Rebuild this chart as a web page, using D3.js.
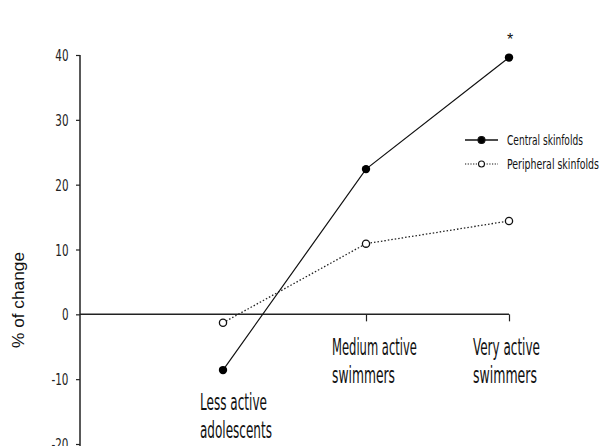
<!DOCTYPE html>
<html>
<head>
<meta charset="utf-8">
<script src="https://cdn.jsdelivr.net/npm/d3@7"></script>
<style>
  body { margin: 0; background: #fff; }
  svg { display: block; }
  .narrow { font-family: "DejaVu Sans Condensed", "DejaVu Sans", sans-serif; }
</style>
</head>
<body>
<div id="chart"></div>
<script>
// data
var categories = [["Less active", "adolescents"], ["Medium active", "swimmers"], ["Very active", "swimmers"]];
var central = [-8.6, 22.4, 39.6];
var peripheral = [-1.3, 10.9, 14.4];
var yTicks = [-20, -10, 0, 10, 20, 30, 40];
var seriesNames = ["Central skinfolds", "Peripheral skinfolds"];

var width = 601, height = 446;
var svg = d3.select("#chart").append("svg")
    .attr("width", width)
    .attr("height", height);

// slot 0 is the empty space left of the first category
var x = d3.scaleLinear().domain([0, 3]).range([80, 509]);
var y = d3.scaleLinear().domain([-20, 40]).range([444, 55]);

// the reference font is very narrow: draw text at (px,py) and squeeze it to width w
function narrowText(parent, s, px, py, size, w, anchor) {
  var t = parent.append("text")
      .attr("class", "narrow")
      .attr("font-size", size)
      .attr("fill", "#111")
      .attr("text-anchor", anchor || "start")
      .text(s);
  var k = w / t.node().getComputedTextLength();
  t.attr("transform", "translate(" + px + "," + py + ") scale(" + k + ",1)");
  return t;
}

// y axis
var yAxis = svg.append("g")
    .attr("transform", "translate(80,0)")
    .call(d3.axisLeft(y).tickValues(yTicks).tickSize(4).tickFormat(""));
yAxis.select(".domain").attr("stroke", "#222").attr("stroke-width", 1.5)
    .attr("d", "M0," + y(40) + "V" + height);
yAxis.selectAll(".tick line").attr("stroke", "#222").attr("stroke-width", 1.2);

var tickLabels = svg.append("g");
yTicks.forEach(function (d) {
  var s = String(d);
  var w = s.replace("-", "").length * 6.6 + (s.indexOf("-") >= 0 ? 3.8 : 0);
  narrowText(tickLabels, s, 68.5, y(d) + 6, 16, w, "end")
      .attr("font-family", "'Liberation Sans', Arial, sans-serif")
      .attr("fill", "#222");
});

// x axis along zero
var xAxis = svg.append("g")
    .attr("transform", "translate(0," + y(0) + ")")
    .call(d3.axisBottom(x).tickValues([2, 3]).tickSize(7).tickFormat(""));
xAxis.select(".domain").attr("stroke", "#222").attr("stroke-width", 1.5)
    .attr("d", "M" + x(0) + ",0H" + x(3));
xAxis.selectAll(".tick line").attr("stroke", "#222").attr("stroke-width", 1.2);

// y label
svg.append("text")
    .attr("transform", "translate(24,300) rotate(-90)")
    .attr("text-anchor", "middle")
    .attr("font-family", "'Liberation Sans', Arial, sans-serif")
    .attr("font-size", 17)
    .attr("fill", "#111")
    .attr("textLength", 96)
    .attr("lengthAdjust", "spacingAndGlyphs")
    .text("% of change");

// category labels (left aligned, measured widths)
var labelPos = [
  {x: 200, y1: 410, y2: 438, w1: 67, w2: 72},
  {x: 332, y1: 355, y2: 383, w1: 85, w2: 63},
  {x: 473, y1: 355, y2: 383, w1: 67, w2: 64}
];
categories.forEach(function (c, i) {
  var p = labelPos[i];
  narrowText(svg, c[0], p.x, p.y1, 23, p.w1);
  narrowText(svg, c[1], p.x, p.y2, 23, p.w2);
});

var line = d3.line()
    .x(function (d, i) { return x(i + 1); })
    .y(function (d) { return y(d); });

// peripheral (dotted, open circles)
svg.append("path")
    .datum(peripheral)
    .attr("fill", "none")
    .attr("stroke", "#222")
    .attr("stroke-width", 1.3)
    .attr("stroke-dasharray", "1.5,2")
    .attr("d", line);

// central (solid, filled circles)
svg.append("path")
    .datum(central)
    .attr("fill", "none")
    .attr("stroke", "#111")
    .attr("stroke-width", 1.2)
    .attr("d", line);

svg.selectAll(".pm").data(peripheral).enter().append("circle")
    .attr("cx", function (d, i) { return x(i + 1); })
    .attr("cy", function (d) { return y(d); })
    .attr("r", 3.6)
    .attr("fill", "#fff")
    .attr("stroke", "#111")
    .attr("stroke-width", 1.3);

svg.selectAll(".cm").data(central).enter().append("circle")
    .attr("cx", function (d, i) { return x(i + 1); })
    .attr("cy", function (d) { return y(d); })
    .attr("r", 4.2)
    .attr("fill", "#000");

// significance star
svg.append("text")
    .attr("x", x(3) + 1)
    .attr("y", y(central[2]) - 13)
    .attr("text-anchor", "middle")
    .attr("font-family", "'Liberation Sans', sans-serif")
    .attr("font-size", 16)
    .attr("fill", "#111")
    .text("*");

// legend
var legendW = [76, 92];
var legend = svg.append("g").attr("transform", "translate(465,140)");
seriesNames.forEach(function (name, i) {
  var g = legend.append("g").attr("transform", "translate(0," + (i * 24) + ")");
  g.append("line")
      .attr("x1", 0).attr("x2", 33).attr("y1", 0).attr("y2", 0)
      .attr("stroke", "#111")
      .attr("stroke-width", i === 0 ? 1.6 : 1.2)
      .attr("stroke-dasharray", i === 0 ? null : "1.2,1.5");
  g.append("circle")
      .attr("cx", 16.5).attr("cy", 0)
      .attr("r", i === 0 ? 3.5 : 3)
      .attr("fill", i === 0 ? "#000" : "#fff")
      .attr("stroke", "#111")
      .attr("stroke-width", 1.1);
  narrowText(g, name, 42, 4.5, 14, legendW[i]);
});
</script>
</body>
</html>
